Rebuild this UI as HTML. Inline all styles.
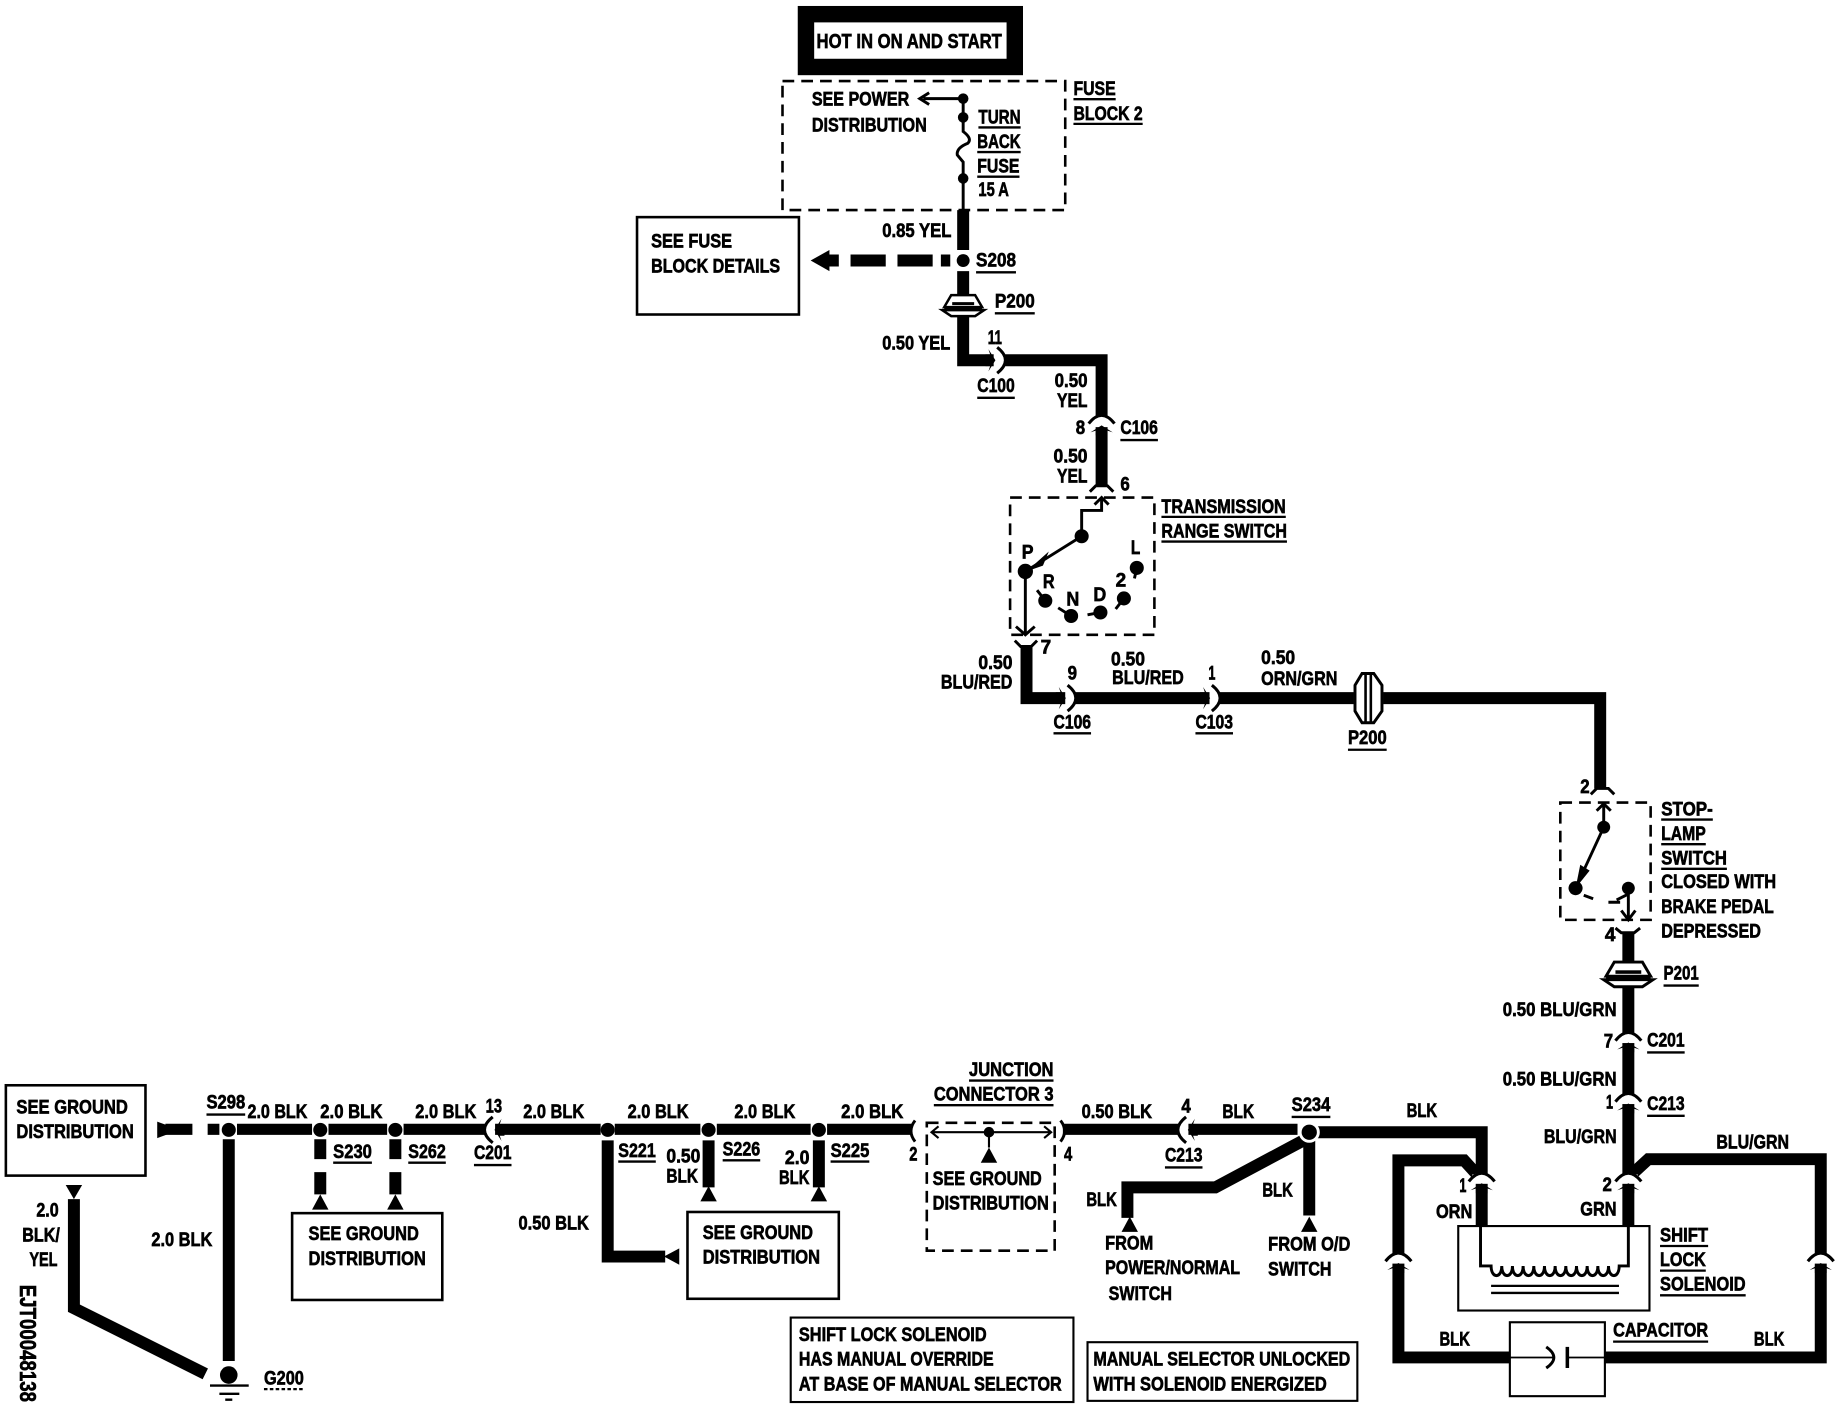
<!DOCTYPE html>
<html><head><meta charset="utf-8"><style>
html,body{margin:0;padding:0;background:#fff}
svg{display:block}
text{font-family:"Liberation Sans",sans-serif;font-weight:bold;font-size:16.5px;fill:#000;stroke:#000;stroke-width:.55}
.w{fill:none;stroke:#000;stroke-width:10.2}
.r{fill:none;stroke:#000;stroke-width:9.500}
.t{fill:none;stroke:#000;stroke-width:2.5}
.d{fill:none;stroke:#000;stroke-width:2.2;stroke-dasharray:10 6}
.b{fill:#fff;stroke:#000;stroke-width:2.2}
.u{stroke:#000;stroke-width:2}
</style></head><body>
<svg width="1836" height="1408" viewBox="1 0 1565 1200" xmlns="http://www.w3.org/2000/svg">
<defs>
<g id="c"><rect x="-8" y="-3" width="16" height="8" fill="#fff"/><path d="M-11,3 Q0,-11 11,3" fill="none" stroke="#000" stroke-width="2.6"/><path d="M-9.500,10.500 L0,4.500 L9.500,10.500 L5,9 V13 H-5 V9Z" fill="#000"/></g>
<g id="p"><path d="M-12,-10 H12 L19,2 H-19Z" fill="#fff" stroke="#000" stroke-width="2.5"/><path d="M-21,5 H21 L12,11 H-12Z" fill="#fff" stroke="#000" stroke-width="2.5"/><rect x="-19" y="2" width="38" height="3" fill="#000"/><rect x="-11" y="-3" width="22" height="3" fill="#000"/></g>
<path id="tri" d="M-7,0 L7,0 L0,-13Z" fill="#000"/>
</defs>
<rect x="0" width="1570" height="1200" fill="#fff"/>

<!-- top box -->
<rect x="688" y="12" width="178" height="45" fill="#fff" stroke="#000" stroke-width="14"/>
<text x="697" y="41" textLength="158" lengthAdjust="spacingAndGlyphs" style="font-size:17.5px">HOT IN ON AND START</text>
<rect x="668" y="69" width="241" height="110" class="d"/>
<text x="693" y="90" textLength="83" lengthAdjust="spacingAndGlyphs">SEE POWER</text>
<text x="693" y="112" textLength="98" lengthAdjust="spacingAndGlyphs">DISTRIBUTION</text>
<path class="t" d="M822,84 H788 M793,79 L785,84 L793,89 M822,84 V112 Q830,118 826,122 Q816,126 817,132 L822,138 V179"/>
<circle cx="822" cy="84" r="4.5"/><circle cx="822" cy="100" r="4.5"/><circle cx="822" cy="152" r="4.5"/>
<text x="835" y="105" textLength="36" lengthAdjust="spacingAndGlyphs">TURN</text><path class="u" d="M835,108.500 H871"/>
<text x="834" y="126" textLength="37" lengthAdjust="spacingAndGlyphs">BACK</text><path class="u" d="M834,129.500 H871"/>
<text x="834" y="147" textLength="36" lengthAdjust="spacingAndGlyphs">FUSE</text><path class="u" d="M834,150.500 H870"/>
<text x="835" y="167" textLength="26" lengthAdjust="spacingAndGlyphs">15 A</text>
<text x="916" y="81" textLength="36" lengthAdjust="spacingAndGlyphs">FUSE</text><path class="u" d="M916,84.500 H952"/>
<text x="916" y="102" textLength="59" lengthAdjust="spacingAndGlyphs">BLOCK 2</text><path class="u" d="M916,105.500 H975"/>

<!-- see fuse -->
<rect x="544" y="185" width="138" height="83" class="b"/>
<text x="556" y="211" textLength="69" lengthAdjust="spacingAndGlyphs">SEE FUSE</text>
<text x="556" y="232" textLength="110" lengthAdjust="spacingAndGlyphs">BLOCK DETAILS</text>

<path class="w" d="M822,179 V213 M822,231 V253 M822,268 V307 H848 M858,307 H940 V356 M940,364 V414"/>
<path class="w" d="M706,222 H716 M726,222 H756 M766,222 H796 M803,222 H811"/>
<path d="M692,222 L708,213 V231Z"/>
<circle cx="822" cy="222" r="5.500"/>
<use href="#p" transform="translate(822,260) scale(.85)"/>
<use href="#c" transform="translate(854,307) rotate(90)"/>
<use href="#c" transform="translate(940,358)"/>
<text x="753" y="202" textLength="59" lengthAdjust="spacingAndGlyphs">0.85 YEL</text>
<text x="833" y="227" textLength="34" lengthAdjust="spacingAndGlyphs">S208</text><path class="u" d="M833,232 H867"/>
<text x="849" y="262" textLength="34" lengthAdjust="spacingAndGlyphs">P200</text><path class="u" d="M849,267 H883"/>
<text x="753" y="298" textLength="58" lengthAdjust="spacingAndGlyphs">0.50 YEL</text>
<text x="843" y="293" textLength="12" lengthAdjust="spacingAndGlyphs">11</text>
<text x="834" y="334" textLength="32" lengthAdjust="spacingAndGlyphs">C100</text><path class="u" d="M834,339 H866"/>
<text x="900" y="330" textLength="28" lengthAdjust="spacingAndGlyphs">0.50</text>
<text x="902" y="347" textLength="26" lengthAdjust="spacingAndGlyphs">YEL</text>
<text x="918" y="370" textLength="8" lengthAdjust="spacingAndGlyphs">8</text>
<text x="956" y="370" textLength="32" lengthAdjust="spacingAndGlyphs">C106</text><path class="u" d="M956,375 H988"/>
<text x="899" y="394" textLength="29" lengthAdjust="spacingAndGlyphs">0.50</text>
<text x="902" y="411" textLength="26" lengthAdjust="spacingAndGlyphs">YEL</text>
<text x="956" y="418" textLength="8" lengthAdjust="spacingAndGlyphs">6</text>

<!-- transmission switch -->
<path class="t" d="M930,419 L935,414 H945 L950,419"/>
<rect x="862" y="424" width="123" height="117" class="d"/>
<path class="t" d="M934,430 L940,424 L946,430 M940,424 V435 H923 V457 M923,457 L875,487 M875,487 V540 M867,534 L875,541 L883,534"/>
<path d="M876,487 L895,470 L890,482Z"/>
<circle cx="923" cy="457" r="6"/><circle cx="875" cy="487" r="6.500"/>
<circle cx="970" cy="484" r="6"/><circle cx="892" cy="512" r="6"/><circle cx="914" cy="525" r="6"/><circle cx="939" cy="522" r="6"/><circle cx="959" cy="510" r="6"/>
<path class="t" d="M885,503 L892,512 M903,518 L914,525 M928,524 L939,522 M952,519 L959,510 M968,493 L970,484"/>
<text x="872" y="476" textLength="10" lengthAdjust="spacingAndGlyphs">P</text>
<text x="965" y="472" textLength="8" lengthAdjust="spacingAndGlyphs">L</text>
<text x="890" y="501" textLength="10" lengthAdjust="spacingAndGlyphs">R</text>
<text x="910" y="516" textLength="11" lengthAdjust="spacingAndGlyphs">N</text>
<text x="933" y="512" textLength="11" lengthAdjust="spacingAndGlyphs">D</text>
<text x="952" y="500" textLength="9" lengthAdjust="spacingAndGlyphs">2</text>
<text x="991" y="437" textLength="106" lengthAdjust="spacingAndGlyphs">TRANSMISSION</text><path class="u" d="M991,440.500 H1097"/>
<text x="991" y="458" textLength="107" lengthAdjust="spacingAndGlyphs">RANGE SWITCH</text><path class="u" d="M991,461.500 H1098"/>

<!-- long wire -->
<path class="t" d="M866,546 L871,551 H880 L885,546"/>
<path class="w" d="M876,550 V595 H1155 M1180,595 H1365 V672"/>
<use href="#c" transform="translate(914,595) rotate(90)"/>
<use href="#c" transform="translate(1037,595) rotate(90)"/>
<g transform="translate(1167,595)"><path d="M-5,-21 H5 L12,-11 V11 L5,21 H-5 L-11,11 V-11Z" fill="#fff" stroke="#000" stroke-width="2.5"/><path d="M-2,-20 V20 M2.500,-20 V20" stroke="#000" stroke-width="2.2"/></g>
<text x="888" y="557" textLength="9" lengthAdjust="spacingAndGlyphs">7</text>
<text x="835" y="570" textLength="29" lengthAdjust="spacingAndGlyphs">0.50</text>
<text x="803" y="587" textLength="61" lengthAdjust="spacingAndGlyphs">BLU/RED</text>
<text x="911" y="579" textLength="8" lengthAdjust="spacingAndGlyphs">9</text>
<text x="948" y="567" textLength="29" lengthAdjust="spacingAndGlyphs">0.50</text>
<text x="949" y="583" textLength="61" lengthAdjust="spacingAndGlyphs">BLU/RED</text>
<text x="1031" y="579" textLength="6" lengthAdjust="spacingAndGlyphs">1</text>
<text x="1076" y="566" textLength="29" lengthAdjust="spacingAndGlyphs">0.50</text>
<text x="1076" y="584" textLength="65" lengthAdjust="spacingAndGlyphs">ORN/GRN</text>
<text x="899" y="621" textLength="32" lengthAdjust="spacingAndGlyphs">C106</text><path class="u" d="M899,625 H931"/>
<text x="1020" y="621" textLength="32" lengthAdjust="spacingAndGlyphs">C103</text><path class="u" d="M1020,625 H1052"/>
<text x="1150" y="634" textLength="33" lengthAdjust="spacingAndGlyphs">P200</text><path class="u" d="M1150,639 H1183"/>

<!-- stop lamp -->
<path class="t" d="M1357,677 L1362,672 H1372 L1377,677"/>
<rect x="1331" y="684" width="77" height="100" class="d"/>
<path class="t" d="M1362,691 L1368,685 L1374,691 M1368,685 V705 L1344,757 M1389,757 V783 M1383,776 L1389,784 L1395,776"/>
<path d="M1344,757 L1348,737 L1356,742Z"/>
<circle cx="1368" cy="705" r="5.500"/><circle cx="1344" cy="757" r="6"/><circle cx="1389" cy="757" r="5.500"/>
<path class="t" d="M1351,763 L1359,766 M1372,769 H1382"/>
<path class="t" d="M1379,767 L1389,762"/>
<text x="1348" y="676" textLength="8" lengthAdjust="spacingAndGlyphs">2</text>
<text x="1417" y="695" textLength="44" lengthAdjust="spacingAndGlyphs">STOP-</text><path class="u" d="M1417,698.500 H1461"/>
<text x="1417" y="716" textLength="38" lengthAdjust="spacingAndGlyphs">LAMP</text><path class="u" d="M1417,719.500 H1455"/>
<text x="1417" y="737" textLength="56" lengthAdjust="spacingAndGlyphs">SWITCH</text><path class="u" d="M1417,740.500 H1473"/>
<text x="1417" y="757" textLength="98" lengthAdjust="spacingAndGlyphs">CLOSED WITH</text>
<text x="1417" y="778" textLength="96" lengthAdjust="spacingAndGlyphs">BRAKE PEDAL</text>
<text x="1417" y="799" textLength="85" lengthAdjust="spacingAndGlyphs">DEPRESSED</text>

<!-- right vertical -->
<path class="t" d="M1378,791 L1383,795 H1394 L1399,791"/>
<path class="w" d="M1389,794 V1046"/>
<path class="w" d="M1393,1000 L1406,988 H1553 V1157 H1369 M1288,1157 H1193 V989 H1249 L1259,1000 M1117,965 H1264 V1046"/>
<use href="#p" x="1389" y="830"/>
<use href="#c" x="1389" y="884"/>
<use href="#c" x="1389" y="936"/>
<use href="#c" x="1389" y="1004"/>
<use href="#c" x="1264" y="1004"/>
<use href="#c" x="1553" y="1072"/>
<use href="#c" x="1193" y="1072"/>
<text x="1369" y="802" textLength="9" lengthAdjust="spacingAndGlyphs">4</text>
<text x="1419" y="835" textLength="30" lengthAdjust="spacingAndGlyphs">P201</text><path class="u" d="M1419,840 H1449"/>
<text x="1282" y="866" textLength="97" lengthAdjust="spacingAndGlyphs">0.50 BLU/GRN</text>
<text x="1368" y="893" textLength="8" lengthAdjust="spacingAndGlyphs">7</text>
<text x="1405" y="892" textLength="32" lengthAdjust="spacingAndGlyphs">C201</text><path class="u" d="M1405,897 H1437"/>
<text x="1282" y="925" textLength="97" lengthAdjust="spacingAndGlyphs">0.50 BLU/GRN</text>
<text x="1370" y="945" textLength="6" lengthAdjust="spacingAndGlyphs">1</text>
<text x="1405" y="946" textLength="32" lengthAdjust="spacingAndGlyphs">C213</text><path class="u" d="M1405,951 H1437"/>
<text x="1317" y="974" textLength="62" lengthAdjust="spacingAndGlyphs">BLU/GRN</text>
<text x="1367" y="1015" textLength="8" lengthAdjust="spacingAndGlyphs">2</text>
<text x="1348" y="1036" textLength="31" lengthAdjust="spacingAndGlyphs">GRN</text>
<text x="1200" y="952" textLength="26" lengthAdjust="spacingAndGlyphs">BLK</text>
<text x="1464" y="979" textLength="62" lengthAdjust="spacingAndGlyphs">BLU/GRN</text>
<text x="1245" y="1016" textLength="6" lengthAdjust="spacingAndGlyphs">1</text>
<text x="1225" y="1038" textLength="31" lengthAdjust="spacingAndGlyphs">ORN</text>

<!-- solenoid -->
<rect x="1244" y="1045" width="163" height="72" fill="#fff" stroke="#000" stroke-width="1.800"/>
<path class="t" d="M1263,1045 V1079 H1272 c0,11 9.100,11 9.100,0 c0,11 9.100,11 9.100,0 c0,11 9.100,11 9.100,0 c0,11 9.100,11 9.100,0 c0,11 9.100,11 9.100,0 c0,11 9.100,11 9.100,0 c0,11 9.100,11 9.100,0 c0,11 9.100,11 9.100,0 c0,11 9.100,11 9.100,0 c0,11 9.100,11 9.100,0 c0,11 9.100,11 9.100,0 c0,11 9.100,11 9.100,0 H1389 V1045"/>
<path d="M1272,1096 H1381 M1272,1102 H1381" stroke="#000" stroke-width="2"/>
<text x="1416" y="1058" textLength="41" lengthAdjust="spacingAndGlyphs">SHIFT</text><path class="u" d="M1416,1062 H1457"/>
<text x="1416" y="1079" textLength="39" lengthAdjust="spacingAndGlyphs">LOCK</text><path class="u" d="M1416,1083 H1455"/>
<text x="1416" y="1100" textLength="73" lengthAdjust="spacingAndGlyphs">SOLENOID</text><path class="u" d="M1416,1104 H1489"/>

<!-- capacitor -->
<rect x="1288" y="1127" width="81" height="63" fill="#fff" stroke="#000" stroke-width="1.800"/>
<path d="M1288,1157 H1325 M1338,1157 H1369" stroke="#000" stroke-width="1.500"/>
<path class="t" d="M1319,1148 Q1332,1157 1319,1166"/>
<path d="M1337,1148 V1166" stroke="#000" stroke-width="3"/>
<text x="1376" y="1139" textLength="81" lengthAdjust="spacingAndGlyphs">CAPACITOR</text><path class="u" d="M1376,1143.500 H1457"/>
<text x="1228" y="1147" textLength="26" lengthAdjust="spacingAndGlyphs">BLK</text>
<text x="1496" y="1147" textLength="26" lengthAdjust="spacingAndGlyphs">BLK</text>

<!-- bottom row -->
<rect x="6" y="925" width="119" height="77" class="b"/>
<text x="15" y="949" textLength="95" lengthAdjust="spacingAndGlyphs">SEE GROUND</text>
<text x="15" y="970" textLength="100" lengthAdjust="spacingAndGlyphs">DISTRIBUTION</text>
<path d="M135,956 L146,960 V966 L135,970Z"/>
<path class="r" d="M142,962.500 H165 M178,962.500 H188 M203,962.500 H267 M281,962.500 H331 M345,962.500 H513 M525,962.500 H598 M612,962.500 H692 M706,962.500 H778 M907,962.500 H1107"/>
<path class="w" d="M196,971 V1160 M274,971 V988 M274,999 V1018 M338,971 V988 M338,999 V1018 M519,972 V1071 H568 M605,972 V1012 M699,972 V1012 M1117,972 V1036 M1112,972 L1037,1012 H962 V1038"/>
<path class="w" d="M64,1022 V1115 L176,1171" />
<path d="M57,1010 H71 L64,1022Z"/>
<circle cx="196" cy="963" r="6"/><circle cx="274" cy="963" r="6"/><circle cx="338" cy="963" r="6"/><circle cx="519" cy="963" r="6"/><circle cx="605" cy="963" r="6"/><circle cx="699" cy="963" r="6"/>
<circle cx="1117" cy="965" r="9" fill="#fff"/><circle cx="1117" cy="965" r="6.500"/>
<use href="#c" transform="translate(418,963) rotate(-90)"/>
<use href="#c" transform="translate(1009,963) rotate(-90)"/>
<use href="#tri" x="274" y="1031"/><use href="#tri" x="338" y="1031"/>
<use href="#tri" x="605" y="1024"/><use href="#tri" x="699" y="1024"/>
<use href="#tri" x="964" y="1050"/><use href="#tri" x="1117" y="1050"/>
<path d="M580,1064 V1078 L567,1071Z"/>
<circle cx="196" cy="1172" r="7.500"/>
<path d="M180,1181 H213 M188,1188 H205 M193,1193 H199" stroke="#000" stroke-width="2"/>
<text x="226" y="1180" textLength="34" lengthAdjust="spacingAndGlyphs">G200</text><path class="u" d="M226,1184 H260" stroke-dasharray="3 2"/>

<text x="177" y="945" textLength="33" lengthAdjust="spacingAndGlyphs">S298</text><path class="u" d="M177,950 H210"/>
<text x="212" y="953" textLength="51" lengthAdjust="spacingAndGlyphs">2.0 BLK</text>
<text x="274" y="953" textLength="53" lengthAdjust="spacingAndGlyphs">2.0 BLK</text>
<text x="355" y="953" textLength="52" lengthAdjust="spacingAndGlyphs">2.0 BLK</text>
<text x="415" y="948" textLength="14" lengthAdjust="spacingAndGlyphs">13</text>
<text x="447" y="953" textLength="52" lengthAdjust="spacingAndGlyphs">2.0 BLK</text>
<text x="536" y="953" textLength="52" lengthAdjust="spacingAndGlyphs">2.0 BLK</text>
<text x="627" y="953" textLength="52" lengthAdjust="spacingAndGlyphs">2.0 BLK</text>
<text x="718" y="953" textLength="53" lengthAdjust="spacingAndGlyphs">2.0 BLK</text>
<text x="405" y="988" textLength="32" lengthAdjust="spacingAndGlyphs">C201</text><path class="u" d="M405,993 H437"/>
<text x="285" y="987" textLength="33" lengthAdjust="spacingAndGlyphs">S230</text><path class="u" d="M285,991 H318"/>
<text x="349" y="987" textLength="32" lengthAdjust="spacingAndGlyphs">S262</text><path class="u" d="M349,991 H381"/>
<text x="528" y="986" textLength="32" lengthAdjust="spacingAndGlyphs">S221</text><path class="u" d="M528,990 H560"/>
<text x="617" y="985" textLength="32" lengthAdjust="spacingAndGlyphs">S226</text><path class="u" d="M617,989 H649"/>
<text x="709" y="986" textLength="33" lengthAdjust="spacingAndGlyphs">S225</text><path class="u" d="M709,990 H742"/>
<text x="569" y="991" textLength="29" lengthAdjust="spacingAndGlyphs">0.50</text>
<text x="569" y="1008" textLength="27" lengthAdjust="spacingAndGlyphs">BLK</text>
<text x="670" y="992" textLength="21" lengthAdjust="spacingAndGlyphs">2.0</text>
<text x="665" y="1009" textLength="26" lengthAdjust="spacingAndGlyphs">BLK</text>
<text x="443" y="1048" textLength="60" lengthAdjust="spacingAndGlyphs">0.50 BLK</text>
<text x="130" y="1062" textLength="52" lengthAdjust="spacingAndGlyphs">2.0 BLK</text>
<text x="32" y="1037" textLength="19" lengthAdjust="spacingAndGlyphs">2.0</text>
<text x="20" y="1058" textLength="32" lengthAdjust="spacingAndGlyphs">BLK/</text>
<text x="26" y="1079" textLength="24" lengthAdjust="spacingAndGlyphs">YEL</text>
<text transform="translate(18,1095) rotate(90)" x="0" y="0" textLength="100" lengthAdjust="spacingAndGlyphs" style="font-size:20px">EJT00048138</text>

<rect x="250" y="1034" width="128" height="74" class="b"/>
<text x="264" y="1057" textLength="94" lengthAdjust="spacingAndGlyphs">SEE GROUND</text>
<text x="264" y="1078" textLength="100" lengthAdjust="spacingAndGlyphs">DISTRIBUTION</text>
<rect x="587" y="1033" width="129" height="74" class="b"/>
<text x="600" y="1056" textLength="94" lengthAdjust="spacingAndGlyphs">SEE GROUND</text>
<text x="600" y="1077" textLength="100" lengthAdjust="spacingAndGlyphs">DISTRIBUTION</text>

<!-- junction -->
<text x="827" y="917" textLength="72" lengthAdjust="spacingAndGlyphs">JUNCTION</text><path class="u" d="M827,921 H899"/>
<text x="797" y="938" textLength="102" lengthAdjust="spacingAndGlyphs">CONNECTOR 3</text><path class="u" d="M797,942 H899"/>
<rect x="791" y="957" width="109" height="109" class="d"/>
<path d="M796,965 H896 M844,965 V978 M801,960 L795,965 L801,970 M891,960 L897,965 L891,970" fill="none" stroke="#000" stroke-width="1.800"/>
<circle cx="844" cy="965" r="4.500"/>
<use href="#tri" x="844" y="991"/>
<path class="t" d="M781,955 Q774,964 781,973 M905,955 Q912,964 905,973"/>
<text x="776" y="989" textLength="7" lengthAdjust="spacingAndGlyphs">2</text>
<text x="908" y="989" textLength="7" lengthAdjust="spacingAndGlyphs">4</text>
<text x="796" y="1010" textLength="93" lengthAdjust="spacingAndGlyphs">SEE GROUND</text>
<text x="796" y="1031" textLength="99" lengthAdjust="spacingAndGlyphs">DISTRIBUTION</text>
<text x="923" y="953" textLength="60" lengthAdjust="spacingAndGlyphs">0.50 BLK</text>
<text x="1008" y="948" textLength="8" lengthAdjust="spacingAndGlyphs">4</text>
<text x="1043" y="953" textLength="27" lengthAdjust="spacingAndGlyphs">BLK</text>
<text x="1102" y="947" textLength="33" lengthAdjust="spacingAndGlyphs">S234</text><path class="u" d="M1102,952 H1135"/>
<text x="994" y="990" textLength="32" lengthAdjust="spacingAndGlyphs">C213</text><path class="u" d="M994,995 H1026"/>
<text x="927" y="1028" textLength="26" lengthAdjust="spacingAndGlyphs">BLK</text>
<text x="1077" y="1020" textLength="26" lengthAdjust="spacingAndGlyphs">BLK</text>
<text x="943" y="1065" textLength="41" lengthAdjust="spacingAndGlyphs">FROM</text>
<text x="943" y="1086" textLength="115" lengthAdjust="spacingAndGlyphs">POWER/NORMAL</text>
<text x="946" y="1108" textLength="54" lengthAdjust="spacingAndGlyphs">SWITCH</text>
<text x="1082" y="1066" textLength="70" lengthAdjust="spacingAndGlyphs">FROM O/D</text>
<text x="1082" y="1087" textLength="54" lengthAdjust="spacingAndGlyphs">SWITCH</text>

<!-- notes -->
<rect x="675" y="1123" width="241" height="72" fill="#fff" stroke="#000" stroke-width="1.800"/>
<text x="682" y="1143" textLength="160" lengthAdjust="spacingAndGlyphs">SHIFT LOCK SOLENOID</text>
<text x="682" y="1164" textLength="166" lengthAdjust="spacingAndGlyphs">HAS MANUAL OVERRIDE</text>
<text x="682" y="1185" textLength="224" lengthAdjust="spacingAndGlyphs">AT BASE OF MANUAL SELECTOR</text>
<rect x="928" y="1144" width="230" height="50" fill="#fff" stroke="#000" stroke-width="1.800"/>
<text x="933" y="1164" textLength="219" lengthAdjust="spacingAndGlyphs">MANUAL SELECTOR UNLOCKED</text>
<text x="933" y="1185" textLength="199" lengthAdjust="spacingAndGlyphs">WITH SOLENOID ENERGIZED</text>
</svg>
</body></html>
